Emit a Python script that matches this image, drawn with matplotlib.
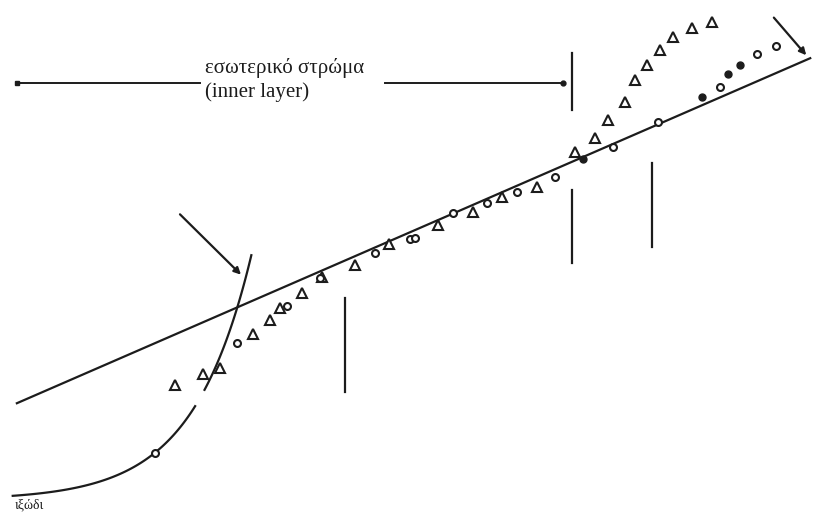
import numpy as np
import matplotlib.pyplot as plt

# Law of the wall: u+ against y+ (log scale), measured profiles
tri_yplus = [6.53, 10.5, 14.1, 24.7, 33.0, 39.1, 57.0, 80.1, 140.7, 251, 579, 1052,
             1726, 3135, 5995, 8435, 10520, 14060, 16680, 20470, 25540, 31900, 44060, 62050]
tri_uplus = [11.27, 12.35, 12.94, 16.27, 17.65, 18.82, 20.29, 21.86, 23.04, 25.10, 26.96, 28.24,
             29.71, 30.69, 34.12, 35.49, 37.25, 39.02, 41.18, 42.65, 44.12, 45.39, 46.27, 46.86]

circ_yplus = [4.64, 18.8, 44.1, 77.4, 198, 359, 391, 748, 1336, 2230, 4265,
              11460, 24700, 71100, 133600, 184800]
circ_uplus = [4.61, 15.39, 19.02, 21.76, 24.22, 25.59, 25.69, 28.14, 29.12, 30.20, 31.67,
              34.61, 37.06, 40.49, 43.73, 44.51]

dot_yplus = [6870, 52300, 81500, 100000]
dot_uplus = [33.43, 39.51, 41.76, 42.65]

# log-law constants
kappa = 0.4
B = 11.54

# vertical marker bars: (y+, u+ bottom, u+ top)
bars = [(118.6, 10.6, 19.8), (5700, 23.2, 30.4), (22300, 24.8, 33.0), (5700, 38.2, 43.8)]

ink = '#1c1c1c'
plt.rcParams['font.family'] = ['Liberation Serif', 'DejaVu Serif']

fig = plt.figure(figsize=(8.18, 5.15), dpi=100)
ax = fig.add_axes([0, 0, 1, 1])
ax.set_xscale('log')
ax.set_xlim(0.330, 3.78e5)
ax.set_ylim(-1.47, 49.02)
ax.axis('off')

# log-law line
yl = np.logspace(np.log10(0.44), np.log10(3.31e5), 200)
ax.plot(yl, np.log(yl) / kappa + B, color=ink, lw=1.6)

# viscous sublayer u+ = y+ (drawn in two pieces)
for lo, hi in [(0.41, 9.2), (10.8, 24.0)]:
    yv = np.logspace(np.log10(lo), np.log10(hi), 100)
    ax.plot(yv, yv, color=ink, lw=1.6)

# measured points
ax.plot(tri_yplus, tri_uplus, ls='none', marker='^', ms=7, mfc='white', mec=ink, mew=1.5)
ax.plot(circ_yplus, circ_uplus, ls='none', marker='o', ms=5, mfc='white', mec=ink, mew=1.5)
ax.plot(dot_yplus, dot_uplus, ls='none', marker='o', ms=5, mfc=ink, mec=ink)

for x, y0, y1 in bars:
    ax.plot([x, x], [y0, y1], color=ink, lw=1.6)

# inner layer extent
ax.plot([0.441, 10.0], [40.9, 40.9], color=ink, lw=1.4)
ax.plot([0.441], [40.9], marker='s', ms=3.5, color=ink)
ax.plot([234, 4890], [40.9, 40.9], color=ink, lw=1.4)
ax.plot([4890], [40.9], marker='o', ms=3.5, color=ink)
ax.text(10.9, 42.35, 'εσωτερικό στρώμα', fontsize=15, va='center', ha='left', color=ink)
ax.text(10.9, 39.95, '(inner layer)', fontsize=15, va='center', ha='left', color=ink)

# pointer arrows
ax.annotate('', xy=(20.8, 21.9), xytext=(6.87, 28.2),
            arrowprops=dict(arrowstyle='-|>', color=ink, lw=1.6, mutation_scale=10))
ax.annotate('', xy=(319000, 43.4), xytext=(172600, 47.5),
            arrowprops=dict(arrowstyle='-|>', color=ink, lw=1.6, mutation_scale=10))

ax.text(0.426, -0.49, 'ιξώδι', fontsize=10, va='center', ha='left', color=ink)

fig.savefig('out.png', dpi=100, facecolor='white')
